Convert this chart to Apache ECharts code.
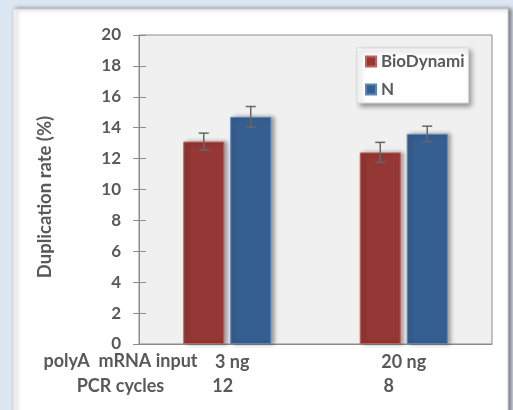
<!DOCTYPE html>
<html><head><meta charset="utf-8">
<script src="https://cdn.jsdelivr.net/npm/echarts@6/dist/echarts.min.js"></script>
<style>html,body{margin:0;padding:0;background:#dce6f2;}#c{width:513px;height:410px;}</style>
</head><body><div id="c"></div>
<script>
const categories = ['3 ng', '20 ng'];
const pcrCycles = ['12', '8'];
const seriesNames = ['BioDynami', 'N'];
const bioDynami = [13.1, 12.4];
const bioDynamiErr = [0.55, 0.65];
const nValues = [14.7, 13.6];
const nErr = [0.67, 0.5];
const yTicks = [0, 2, 4, 6, 8, 10, 12, 14, 16, 18, 20];
const yAxisTitle = 'Duplication rate (%)';
const rowTitles = ['polyA  mRNA input', 'PCR cycles'];

const FONT = 'Lato';
const TXT = '#595959';
const BAR_W = 41, BAR_GAP = 6;
const chart = echarts.init(document.getElementById('c'));

function errSeries(vals, errs, idx) {
  const off = (idx === 0 ? -1 : 1) * (BAR_W + BAR_GAP) / 2;
  return {
    type: 'custom', z: 10, silent: true,
    data: vals.map((v, i) => [i, v, errs[i]]),
    renderItem: function (params, api) {
      const c = api.value(0), v = api.value(1), e = api.value(2);
      const top = api.coord([c, v + e]);
      const bot = api.coord([c, v - e]);
      const x = top[0] + off;
      const st = { stroke: '#666', lineWidth: 1.5 };
      return { type: 'group', children: [
        { type: 'line', shape: { x1: x, y1: top[1], x2: x, y2: bot[1] }, style: st },
        { type: 'line', shape: { x1: x - 5, y1: top[1], x2: x + 5, y2: top[1] }, style: st },
        { type: 'line', shape: { x1: x - 5, y1: bot[1], x2: x + 5, y2: bot[1] }, style: st }
      ]};
    }
  };
}

const labStyle = { fontFamily: FONT, fontWeight: 'bold', fontSize: 18, color: TXT };
const option = {
  animation: false,
  backgroundColor: '#dce6f2',
  graphic: [
    { type: 'rect', z: -10, shape: { x: 13, y: 9, width: 495, height: 420 },
      style: { fill: '#ffffff', stroke: '#d4d4d4', lineWidth: 1,
        shadowColor: 'rgba(0,0,0,0.45)', shadowBlur: 4, shadowOffsetX: 3, shadowOffsetY: 0 } },
    { type: 'text', x: 120.5, y: 361, style: { text: rowTitles[0], align: 'center', verticalAlign: 'middle', font: 'bold 18px ' + FONT, fill: TXT } },
    { type: 'text', x: 120.5, y: 386, style: { text: rowTitles[1], align: 'center', verticalAlign: 'middle', font: 'bold 18px ' + FONT, fill: TXT } },
    { type: 'text', x: 45, y: 197, rotation: Math.PI / 2,
      style: { text: yAxisTitle, align: 'center', verticalAlign: 'middle', font: 'bold 18.5px ' + FONT, fill: TXT } }
  ],
  grid: { left: 139, top: 35, right: 21, bottom: 66, show: true,
    backgroundColor: '#f0f0f0', borderColor: '#8c8c8c', borderWidth: 1 },
  legend: {
    data: seriesNames, orient: 'vertical', left: 357, top: 48,
    itemWidth: 10, itemHeight: 10, itemGap: 11,
    padding: [5, 4, 5, 8],
    backgroundColor: '#ffffff', borderColor: '#d9d9d9', borderWidth: 1,
    shadowColor: 'rgba(0,0,0,0.4)', shadowBlur: 5, shadowOffsetX: 3, shadowOffsetY: 3,
    textStyle: { fontFamily: FONT, fontWeight: 'bold', fontSize: 17, color: TXT, lineHeight: 17 },
    icon: 'rect'
  },
  xAxis: {
    type: 'category', data: categories,
    axisLine: { show: true, lineStyle: { color: '#8c8c8c' } },
    axisTick: { show: false },
    axisLabel: {
      margin: 6,
      formatter: function (v, i) { return '{a' + i + '|' + v + '}\n{b' + i + '|' + pcrCycles[i] + '}'; },
      rich: {
        a0: Object.assign({ lineHeight: 24, padding: [0, 0, 0, 10] }, labStyle),
        a1: Object.assign({ lineHeight: 24 }, labStyle),
        b0: Object.assign({ lineHeight: 24, padding: [0, 9, 0, 0] }, labStyle),
        b1: Object.assign({ lineHeight: 24, padding: [0, 30, 0, 0] }, labStyle)
      }
    }
  },
  yAxis: [{
    type: 'value', min: yTicks[0], max: yTicks[yTicks.length - 1], interval: yTicks[1] - yTicks[0],
    axisLine: { show: true, lineStyle: { color: '#8c8c8c' } },
    axisTick: { show: true, length: 6, lineStyle: { color: '#8c8c8c' } },
    splitLine: { show: false },
    axisLabel: { margin: 18, fontFamily: FONT, fontWeight: 'bold', fontSize: 17, color: TXT }
  }, {
    type: 'value', position: 'left', min: yTicks[0], max: yTicks[yTicks.length - 1], interval: yTicks[1] - yTicks[0],
    axisLine: { show: false },
    axisTick: { show: true, inside: true, length: 7, lineStyle: { color: '#8c8c8c' } },
    axisLabel: { show: false }, splitLine: { show: false }
  }],
  series: [
    { name: seriesNames[0], type: 'bar', data: bioDynami, barWidth: BAR_W, barGap: (BAR_GAP / BAR_W * 100) + '%',
      itemStyle: { color: '#953735', borderColor: '#c0605c', borderWidth: 1,
        shadowColor: 'rgba(0,0,0,0.35)', shadowBlur: 4, shadowOffsetX: 3 } },
    { name: seriesNames[1], type: 'bar', data: nValues, barWidth: BAR_W,
      itemStyle: { color: '#365f91', borderColor: '#5a84b8', borderWidth: 1,
        shadowColor: 'rgba(0,0,0,0.35)', shadowBlur: 4, shadowOffsetX: 3 } },
    errSeries(bioDynami, bioDynamiErr, 0),
    errSeries(nValues, nErr, 1)
  ]
};
chart.setOption(option);
</script></body></html>
